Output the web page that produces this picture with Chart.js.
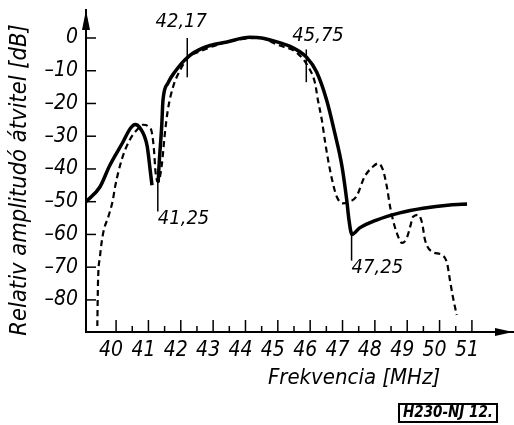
<!DOCTYPE html>
<html>
<head>
<meta charset="utf-8">
<script src="https://cdn.jsdelivr.net/npm/chart.js@4/dist/chart.umd.min.js"></script>
<style>
  html, body { margin: 0; padding: 0; background: #fff; }
  #wrap { width: 514px; height: 425px; position: relative; }
</style>
</head>
<body>
<div id="wrap"><canvas id="c" width="514" height="425"></canvas></div>
<script>
// ---- data ----
const solidX = [39.07, 39.5, 39.8, 40.2, 40.45, 40.59, 40.74, 40.96, 41.05, 41.11, 41.2, 41.3, 41.34, 41.41, 41.45, 41.6, 41.82, 42.22, 42.69, 43.43, 44.14, 44.5, 44.76, 45.47, 45.9, 46.2, 46.51, 46.76, 46.98, 47.13, 47.2, 47.29, 47.53, 48.05, 48.77, 49.49, 50.32, 50.85];
const solidY = [-50, -45.5, -39, -32, -27.5, -26.4, -27.5, -33, -40, -45, null, -44, -37, -27, -19, -13.8, -10.3, -5.8, -3, -1.2, 0.2, 0, -0.6, -3, -6, -10.4, -19, -29, -39, -49.5, -55.6, -60, -58, -55.6, -53.4, -52, -51, -50.7];

const dashX = [39.42, 39.44, 39.5, 39.6, 39.76, 39.9, 39.97, 40.18, 40.43, 40.65, 40.83, 41.0, 41.1, 41.17, 41.22, 41.3, 41.41, 41.51, 41.6, 41.76, 41.98, 42.22, 42.69, 43.43, 44.0, 44.45, 44.97, 45.6, 45.94, 46.15, 46.24, 46.36, 46.45, 46.55, 46.67, 46.82, 47.0, 47.2, 47.43, 47.68, 47.93, 48.1, 48.25, 48.37, 48.47, 48.56, 48.68, 48.84, 48.99, 49.09, 49.18, 49.34, 49.46, 49.55, 49.77, 50.08, 50.23, 50.32, 50.41, 50.53];
const dashY = [-88, -75, -67, -59.6, -54.6, -49.5, -45.4, -37, -31, -28, -26.5, -27, -28.6, -34, -41, -44, -39, -29, -22, -15, -9.8, -6.1, -3.7, -1.2, -0.2, 0, -2, -4.6, -8.8, -13.8, -19, -25, -31, -37, -43, -48.4, -50.5, -50, -48.4, -42.4, -39.4, -38.3, -40.3, -45.4, -51.5, -55.6, -59.6, -62.6, -61, -57.7, -54.6, -54, -56.5, -61.7, -65.3, -66.3, -68.7, -73.9, -79, -84.6];

const xTickValues = [40, 41, 42, 43, 44, 45, 46, 47, 48, 49, 50, 51];
const xMinorTickValues = [40.5, 41.5, 42.5, 43.5, 44.5, 45.5, 46.5, 47.5, 48.5, 49.5, 50.5];
const yTickValues = [0, -10, -20, -30, -40, -50, -60, -70, -80];

const markerX = [41.29, 42.2, 45.88, 47.28];
const markerTop = [-44, 0, -3.5, -59];
const markerBottom = [-53, -12, -13.5, -68];
const markerLabels = ['41,25', '42,17', '45,75', '47,25'];

const xTitle = 'Frekvencia [MHz]';
const yTitle = 'Relativ amplitudó átvitel [dB]';
const stamp = 'H230-NJ 12.';

// ---- rendering ----
const FAM = "'DejaVu Sans Condensed', 'DejaVu Sans', sans-serif";
const pts = (xs, ys) => xs.map((x, i) => ({ x: x, y: ys[i] }));

const decor = {
  id: 'decor',
  afterDraw(chart) {
    const ctx = chart.ctx, xs = chart.scales.x, ys = chart.scales.y, a = chart.chartArea;
    ctx.save();
    ctx.strokeStyle = '#000';
    ctx.fillStyle = '#000';
    ctx.lineCap = 'butt';
    // y ticks
    ctx.lineWidth = 1.5;
    yTickValues.forEach(v => {
      const py = ys.getPixelForValue(v);
      ctx.beginPath(); ctx.moveTo(a.left, py); ctx.lineTo(a.left + 10, py); ctx.stroke();
    });
    // x major / minor ticks
    xTickValues.forEach(v => {
      const px = xs.getPixelForValue(v);
      ctx.beginPath(); ctx.moveTo(px, a.bottom); ctx.lineTo(px, a.bottom - 12); ctx.stroke();
    });
    xMinorTickValues.forEach(v => {
      const px = xs.getPixelForValue(v);
      ctx.beginPath(); ctx.moveTo(px, a.bottom); ctx.lineTo(px, a.bottom - 6); ctx.stroke();
    });
    // arrows
    ctx.beginPath();
    ctx.moveTo(a.left, a.top); ctx.lineTo(a.left - 4, a.top + 20); ctx.lineTo(a.left + 4, a.top + 20); ctx.closePath(); ctx.fill();
    ctx.beginPath();
    ctx.moveTo(a.right, a.bottom); ctx.lineTo(a.right - 18, a.bottom - 4); ctx.lineTo(a.right - 18, a.bottom + 4); ctx.closePath(); ctx.fill();
    // markers
    ctx.lineWidth = 1.5;
    ctx.font = 'italic 20px ' + FAM;
    markerX.forEach((mx, i) => {
      const px = xs.getPixelForValue(mx);
      const t = ys.getPixelForValue(markerTop[i]);
      const b = ys.getPixelForValue(markerBottom[i]);
      ctx.beginPath(); ctx.moveTo(px, t); ctx.lineTo(px, b); ctx.stroke();
      ctx.textBaseline = 'middle';
      if (i === 1) { ctx.textAlign = 'center'; ctx.fillText(markerLabels[i], px - 6, t - 16); }
      else if (i === 2) { ctx.textAlign = 'left'; ctx.fillText(markerLabels[i], px - 14, t - 14); }
      else { ctx.textAlign = 'left'; ctx.fillText(markerLabels[i], px, b + 7); }
    });
    // titles
    ctx.font = 'italic 22px ' + FAM;
    ctx.textAlign = 'center'; ctx.textBaseline = 'middle';
    ctx.fillText(xTitle, 354, 378);
    ctx.save();
    ctx.font = 'italic 23.5px ' + FAM;
    ctx.translate(20, 180); ctx.rotate(-Math.PI / 2);
    ctx.fillText(yTitle, 0, 0);
    ctx.restore();
    // stamp
    ctx.lineWidth = 2;
    ctx.strokeRect(399, 404, 98, 18);
    ctx.font = 'italic bold 15px ' + FAM;
    ctx.fillText(stamp, 448, 413.5);
    ctx.restore();
  }
};

const noPad = s => { s.paddingTop = 0; s.paddingBottom = 0; s.paddingLeft = 0; s.paddingRight = 0; };

new Chart(document.getElementById('c'), {
  type: 'line',
  data: {
    datasets: [
      { data: pts(solidX, solidY), borderColor: '#000', borderWidth: 3.5, pointRadius: 0,
        cubicInterpolationMode: 'monotone', spanGaps: false, fill: false },
      { data: pts(dashX, dashY), borderColor: '#000', borderWidth: 2.2, borderDash: [6, 4], pointRadius: 0,
        cubicInterpolationMode: 'monotone', spanGaps: false, fill: false }
    ]
  },
  options: {
    responsive: false,
    animation: false,
    events: [],
    layout: { padding: { top: 10, right: 1, left: 0, bottom: 0 } },
    plugins: { legend: { display: false }, tooltip: { enabled: false } },
    scales: {
      x: {
        type: 'linear', min: 39.07, max: 52.27,
        afterFit: s => { s.height = 93; noPad(s); },
        afterBuildTicks: s => { s.ticks = xTickValues.map(v => ({ value: v })); },
        grid: { display: false, drawTicks: false },
        border: { display: true, color: '#000', width: 2 },
        ticks: { color: '#000', padding: 6, labelOffset: -5, maxRotation: 0, autoSkip: false,
          font: { family: FAM, size: 21, style: 'italic' },
          callback: v => String(v) }
      },
      y: {
        type: 'linear', min: -89.8, max: 8.55,
        afterFit: s => { s.width = 86; noPad(s); },
        afterBuildTicks: s => { s.ticks = yTickValues.map(v => ({ value: v })); },
        grid: { display: false, drawTicks: false },
        border: { display: true, color: '#000', width: 2 },
        ticks: { color: '#000', padding: 8, autoSkip: false,
          font: { family: FAM, size: 21, style: 'italic' },
          callback: v => (v < 0 ? '\u2013' + Math.abs(v) : String(v)) }
      }
    }
  },
  plugins: [decor]
});
</script>
</body>
</html>
